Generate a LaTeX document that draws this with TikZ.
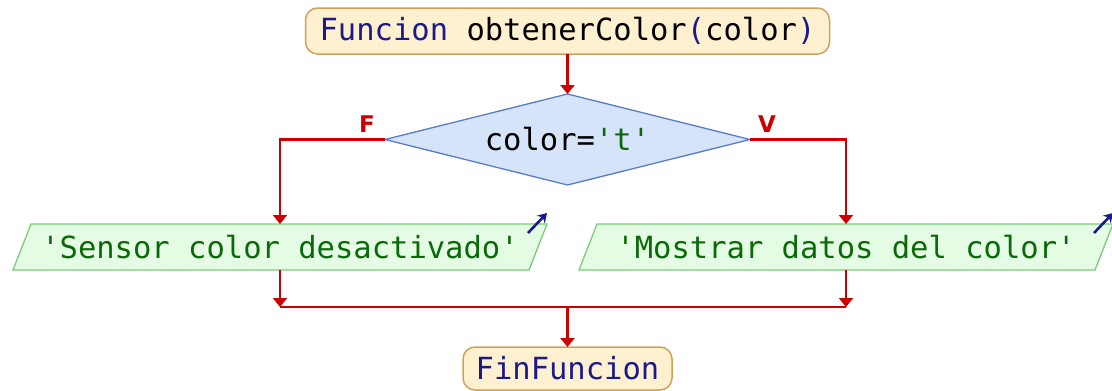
\documentclass[tikz,border=0pt]{standalone}
\usepackage{fontspec}
\setmonofont{DejaVu Sans Mono}
\newfontfamily\labelfont{DejaVu Sans}
\usetikzlibrary{shapes.geometric,arrows.meta,calc}

\definecolor{flowred}{HTML}{CC0000}
\definecolor{kwnavy}{HTML}{1A1A8A}
\definecolor{strgreen}{HTML}{0A6A0A}
\definecolor{termfill}{HTML}{FFF0CF}
\definecolor{termdraw}{HTML}{D2A05A}
\definecolor{condfill}{HTML}{D6E4FA}
\definecolor{conddraw}{HTML}{5A7ACC}
\definecolor{outfill}{HTML}{E4FCE4}
\definecolor{outdraw}{HTML}{7ACC7A}

\tikzset{
  txt/.style={font=\ttfamily\fontsize{30.5}{36}\selectfont},
  terminal/.style={txt, rectangle, rounded corners=12pt, draw=termdraw, fill=termfill,
    line width=1.5pt, inner sep=0pt, outer sep=0pt},
  decision/.style={txt, diamond, aspect=4, draw=conddraw, fill=condfill, line width=1.3pt,
    inner sep=0pt, outer sep=0pt},
  outbox/.style={txt, rectangle, inner sep=0pt, outer sep=0pt,
    minimum width=516pt, minimum height=46pt},
  outshape/.style={draw=outdraw, fill=outfill, line width=1.3pt},
  flow/.style={draw=flowred, line width=2.8pt},
  flowarrow/.style={flow, -{Triangle[width=14pt,length=9pt]}},
  branchlabel/.style={text=flowred, font=\labelfont\bfseries\fontsize{23}{26}\selectfont},
  outmark/.style={draw=kwnavy, line width=2.6pt, -{Stealth[length=9pt,width=11pt]}}
}

\begin{document}
\begin{tikzpicture}[x=1pt,y=-1pt]
\useasboundingbox (0,0) rectangle (1112,391);

% start and end of the function
\node[terminal, minimum width=524pt, minimum height=46pt] (start) at (567.5,31)
  {\textcolor{kwnavy}{Funcion} obtenerColor\textcolor{kwnavy}{(}color\textcolor{kwnavy}{)}};
\node[terminal, minimum width=209pt, minimum height=43pt] (fin) at (567.5,368.5)
  {\textcolor{kwnavy}{FinFuncion}};

% condition
\node[decision, minimum width=365pt, minimum height=91pt] (cond) at (567.5,139.5)
  {color=\textcolor{strgreen}{'t'}};

% output nodes (parallelograms drawn behind their text)
\node[outbox] (outF) at (280,247) {};
\node[outbox] (outV) at (846,247) {};
\foreach \n in {outF,outV}{
  \path[outshape] ($(\n.north west)+(9,0)$) -- ($(\n.north east)+(9,0)$)
    -- ($(\n.south east)+(-9,0)$) -- ($(\n.south west)+(-9,0)$) -- cycle;
}
\node[txt, text=strgreen] at (outF) {'Sensor color desactivado'};
\node[txt, text=strgreen] at (outV) {'Mostrar datos del color'};

% output marks
\draw[outmark] ($(outF.north east)+(-10,9)$) -- ($(outF.north east)+(9,-11)$);
\draw[outmark] ($(outV.north east)+(-10,9)$) -- ($(outV.north east)+(9,-11)$);

% merge points
\coordinate (mF) at (outF.south |- 0,307);
\coordinate (mV) at (outV.south |- 0,307);
\coordinate (mC) at (fin.north |- 0,307);

% connectors
\draw[flowarrow] (start.south) -- (cond.north);
\draw[flowarrow] (cond.west) -| (outF.north);
\draw[flowarrow] (cond.east) -| (outV.north);
\draw[flowarrow] (outF.south) -- (mF);
\draw[flowarrow] (outV.south) -- (mV);
\draw[flow] (mF) -- (mV);
\draw[flowarrow] (mC) -- (fin.north);

% branch labels
\node[branchlabel] (lf) at (367,124) {F};
\node[branchlabel] (lv) at (767,124) {V};
\end{tikzpicture}
\end{document}
